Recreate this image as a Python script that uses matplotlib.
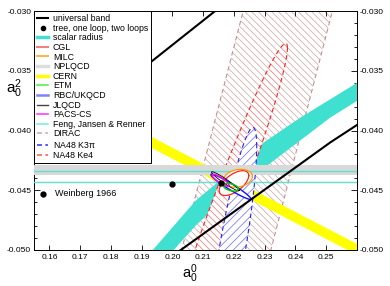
import numpy as np
import matplotlib
matplotlib.use("Agg")
import matplotlib.pyplot as plt
from matplotlib.lines import Line2D

plt.rcParams['font.family'] = ['Liberation Sans', 'DejaVu Sans']
plt.rcParams['mathtext.fontset'] = 'custom'
plt.rcParams['mathtext.rm'] = 'Liberation Sans'
plt.rcParams['mathtext.it'] = 'Liberation Sans'
plt.rcParams['hatch.linewidth'] = 0.5

# universal band (two boundary lines)
ub_up_x = [0.185, 0.216]
ub_up_y = [-0.03590, -0.02957]
ub_lo_x = [0.200, 0.2077, 0.2513, 0.262]
ub_lo_y = [-0.0505, -0.04908, -0.0410, -0.0392]

# tree, one loop, two loops
pts_x = [0.1580, 0.1997, 0.2158]
pts_y = [-0.0453, -0.0445, -0.04442]

# scalar radius band edges
sr_up_x = [0.1916, 0.1939, 0.2077, 0.2190, 0.2297, 0.2416, 0.2620]
sr_up_y = [-0.05058, -0.04992, -0.04583, -0.04342, -0.0410, -0.03892, -0.03570]
sr_lo_x = [0.1984, 0.2007, 0.2077, 0.2190, 0.2407, 0.2513, 0.2620]
sr_lo_y = [-0.05058, -0.04992, -0.04792, -0.04525, -0.0410, -0.03892, -0.03720]

# CERN band: centre line, half width
cern_x = [0.150, 0.265]
cern_y = [-0.03517, -0.05061]
cern_hw = 0.00046

# NPLQCD band, Feng-Jansen-Renner lines
nplqcd = [-0.04372, -0.04288]
fjr = [-0.04432, -0.04338]

# DIRAC: a0^0 - a0^2 range
dirac = [0.253, 0.282]

# ellipses: x0, y0, sx, sy, rho
na48_ke4 = (0.2180, -0.0457, 0.0194, 0.0130, 0.97)
na48_k3pi = (0.2192, -0.05035, 0.0082, 0.0106, 0.85)
cgl = (0.2200, -0.04440, 0.0048, 0.00104, 0.6)
milc = (0.2213, -0.04400, 0.0047, 0.00075, 0.2)
etm = (0.2190, -0.04475, 0.0024, 0.00032, -0.4)
rbc = (0.2190, -0.04471, 0.0065, 0.00105, -0.96)
jlqcd = (0.2172, -0.04425, 0.0045, 0.00080, -0.96)
pacs = (0.21565, -0.04417, 0.0027, 0.00050, -0.85)


def ellipse(p, n=300):
    x0, y0, sx, sy, r = p
    t = np.linspace(0, 2 * np.pi, n)
    return x0 + sx * np.cos(t), y0 + sy * (r * np.cos(t) + np.sqrt(1 - r * r) * np.sin(t))


fig = plt.figure(figsize=(3.9, 2.86), dpi=100)
ax = fig.add_axes([34 / 390, 1 - 250 / 286, 323 / 390, 239 / 286])

# DIRAC band
yy = np.array([-0.052, -0.028])
ax.fill_betweenx(yy, yy + dirac[0], yy + dirac[1], facecolor='none', edgecolor='#cfa4a4',
                 hatch='\\\\\\\\\\', lw=0, zorder=1)
for d in dirac:
    ax.plot(yy + d, yy, color='#c49090', lw=0.8, ls=(0, (4, 3)), zorder=1.5)

# scalar radius
ax.fill(np.r_[sr_up_x, sr_lo_x[::-1]], np.r_[sr_up_y, sr_lo_y[::-1]], color='#40e0d0', lw=0, zorder=2)

# CERN
cx = np.array(cern_x)
cy = np.array(cern_y)
ax.fill_between(cx, cy - cern_hw, cy + cern_hw, color='#ffff00', lw=0, zorder=2.5)

# NA48 Ke4 and K3pi
ex, ey = ellipse(na48_ke4)
ax.fill(ex, ey, facecolor='white', edgecolor='#f07070', hatch='\\\\\\\\\\', lw=0, zorder=3)
ax.plot(ex, ey, color='#ff2020', lw=0.8, ls=(0, (4, 3)), zorder=3.1)
ex, ey = ellipse(na48_k3pi)
ax.fill(ex, ey, facecolor='white', edgecolor='#6868ff', hatch='////', lw=0, zorder=3.2)
ax.plot(ex, ey, color='#2020ff', lw=0.8, ls=(0, (4, 3)), zorder=3.3)

# NPLQCD and FJR
ax.axhspan(nplqcd[0], nplqcd[1], color='#d9d9d9', lw=0, zorder=4)
for v in fjr:
    ax.axhline(v, color='#60e0d0', lw=1.0, zorder=4.5)

# small lattice ellipses
for p in [cgl, milc, rbc]:
    ex, ey = ellipse(p)
    ax.fill(ex, ey, color='white', lw=0, zorder=5)
for p, c, w in [(cgl, '#ff2020', 0.9), (milc, '#ff9900', 0.9), (rbc, '#1010ff', 1.0),
                (jlqcd, 'black', 0.6), (pacs, '#ff00ff', 1.0), (etm, '#00cc00', 1.0)]:
    ex, ey = ellipse(p)
    ax.plot(ex, ey, color=c, lw=w, zorder=6)

# universal band
ax.plot(ub_up_x, ub_up_y, color='black', lw=1.5, zorder=7)
ax.plot(ub_lo_x, ub_lo_y, color='black', lw=1.5, zorder=7)

ax.plot(pts_x, pts_y, 'o', color='black', ms=3.5, zorder=8)
ax.text(0.1618, -0.0453, 'Weinberg 1966', fontsize=6.5, va='center', ha='left')

ax.set_xlim(0.155, 0.26)
ax.set_ylim(-0.050, -0.030)
ax.set_xticks(np.arange(0.16, 0.2501, 0.01))
ax.set_xticklabels(['%.2f' % v for v in np.arange(0.16, 0.2501, 0.01)])
ax.set_yticks(np.arange(-0.050, -0.0299, 0.005))
ax.set_yticklabels(['%.3f' % v for v in np.arange(-0.050, -0.0299, 0.005)])
ax.set_yticks(np.arange(-0.050, -0.0299, 0.001), minor=True)
ax.tick_params(axis='both', which='both', direction='in', labelsize=6, width=0.6)
ax.tick_params(axis='x', top=True, length=3.5, pad=3)
ax.tick_params(axis='y', which='both', left=True, right=True, labelleft=True, labelright=True, pad=2)
ax.tick_params(axis='y', which='major', length=4)
ax.tick_params(axis='y', which='minor', length=2)
for s in ax.spines.values():
    s.set_linewidth(0.7)

ax.set_xlabel(r'$\mathrm{a}_0^0$', fontsize=10.5)
ax.set_ylabel(r'$\mathrm{a}_0^2$', fontsize=11, rotation=0)
ax.xaxis.set_label_coords(0.483, -0.05)
ax.yaxis.set_label_coords(-0.062, 0.628)

handles = [
    Line2D([], [], color='black', lw=1.5),
    Line2D([], [], color='black', ls='none', marker='o', ms=3),
    Line2D([], [], color='#40e0d0', lw=2.5),
    Line2D([], [], color='#f08080', lw=1.5),
    Line2D([], [], color='#ffb84d', lw=1.5),
    Line2D([], [], color='#dddddd', lw=2.5),
    Line2D([], [], color='#ffff00', lw=2.5),
    Line2D([], [], color='#55ee55', lw=1.2),
    Line2D([], [], color='#8080ff', lw=1.8),
    Line2D([], [], color='#444444', lw=1.0),
    Line2D([], [], color='#ff40ff', lw=1.2),
    Line2D([], [], color='#80eedd', lw=1.2),
    Line2D([], [], color='#d0b0b0', lw=1.2, ls=(0, (3, 2))),
    Line2D([], [], color='#4040ff', lw=1.2, ls=(0, (3, 2))),
    Line2D([], [], color='#ff6060', lw=1.2, ls=(0, (3, 2))),
]
labels = ['universal band', 'tree, one loop, two loops', 'scalar radius', 'CGL', 'MILC', 'NPLQCD',
          'CERN', 'ETM', 'RBC/UKQCD', 'JLQCD', 'PACS-CS', 'Feng, Jansen & Renner', 'DIRAC',
          r'NA48 K3$\pi$', 'NA48 Ke4']
leg = ax.legend(handles, labels, loc='upper left', bbox_to_anchor=(0, 1), borderaxespad=0,
                fontsize=6.3, fancybox=False, framealpha=1, edgecolor='black', handlelength=1.3,
                handletextpad=0.5, labelspacing=0.07, borderpad=0.35)
leg.get_frame().set_linewidth(0.7)
leg.set_zorder(10)

fig.savefig('out.png', dpi=100)
